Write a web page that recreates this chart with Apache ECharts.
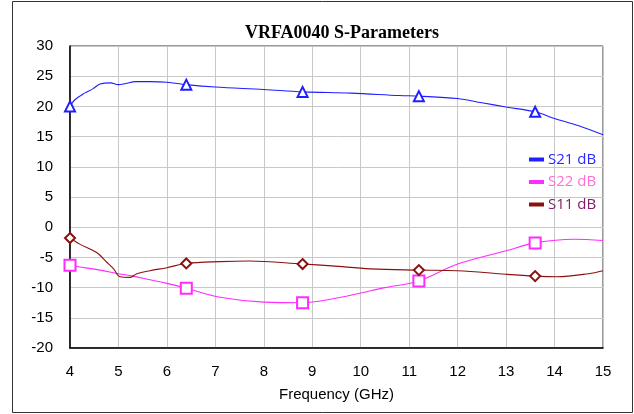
<!DOCTYPE html>
<html>
<head>
<meta charset="utf-8">
<script src="https://cdn.jsdelivr.net/npm/echarts@6/dist/echarts.min.js"></script>
<style>
  html, body { margin: 0; padding: 0; background: #fff; }
  #chart { width: 634px; height: 414px; }
</style>
</head>
<body>
<div id="chart"></div>
<script>
// Frequency axis (GHz) and gain axis (dB) ticks
const freqTicks = [4, 5, 6, 7, 8, 9, 10, 11, 12, 13, 14, 15];
const dbTicks = [-20, -15, -10, -5, 0, 5, 10, 15, 20, 25, 30];

// Frequencies where the series markers are drawn
const markerFreq = [4, 6.4, 8.8, 11.2, 13.6];

// S21 (gain)
const s21Freq = [4, 4.1, 4.3, 4.47, 4.62, 4.83, 5.0, 5.15, 5.35, 5.65, 6.0, 6.4, 7.0, 8.0, 8.8, 9.8, 10.8, 11.2, 12.0, 12.5, 13.0, 13.6, 14.0, 14.5, 15.0];
const s21Db = [20.0, 21.1, 22.2, 22.9, 23.7, 23.9, 23.6, 23.8, 24.1, 24.1, 24.0, 23.6, 23.2, 22.8, 22.4, 22.2, 21.8, 21.7, 21.3, 20.6, 19.9, 19.1, 18.0, 16.8, 15.3];

// S22 (output return loss)
const s22Freq = [4, 4.3, 4.62, 5.0, 5.3, 5.65, 6.0, 6.4, 7.1, 8.0, 8.8, 9.4, 10.0, 10.5, 11.2, 12.0, 13.0, 13.6, 14.4, 15.0];
const s22Db = [-6.3, -6.7, -7.1, -7.7, -8.1, -8.7, -9.3, -10.1, -11.6, -12.4, -12.5, -11.9, -10.9, -10.0, -8.9, -6.1, -3.9, -2.6, -2.0, -2.2];

// S11 (input return loss)
const s11Freq = [4, 4.2, 4.55, 4.76, 4.9, 5.03, 5.24, 5.38, 5.65, 6.0, 6.4, 7.1, 7.7, 8.8, 9.4, 10.2, 11.2, 12.0, 13.0, 13.6, 14.05, 14.7, 15.0];
const s11Db = [-1.8, -2.8, -4.2, -5.8, -6.9, -8.2, -8.3, -7.7, -7.2, -6.7, -6.0, -5.7, -5.6, -6.1, -6.4, -6.9, -7.1, -7.2, -7.8, -8.1, -8.2, -7.7, -7.2];

const pairs = (xs, ys) => xs.map((x, i) => [x, ys[i]]);
const isMarker = (v) => markerFreq.some(f => Math.abs(f - v[0]) < 1e-6);

function makeSeries(name, xs, ys, color, symbol, size) {
  return {
    name: name,
    type: 'line',
    data: pairs(xs, ys),
    smooth: 0.35,
    showAllSymbol: true,
    symbol: (v) => isMarker(v) ? symbol : 'none',
    symbolSize: size,
    lineStyle: { color: color, width: 1.1 },
    itemStyle: { color: color, borderColor: color, borderWidth: 1 },
    emphasis: { disabled: true },
    z: 3
  };
}

const chart = echarts.init(document.getElementById('chart'), null, { renderer: 'canvas' });

chart.setOption({
  animation: false,
  backgroundColor: '#fff',
  title: {
    text: 'VRFA0040 S-Parameters',
    left: 337,
    top: 19,
    textAlign: 'center',
    textStyle: { fontFamily: 'Liberation Serif', fontWeight: 'bold', fontSize: 18, color: '#000' }
  },
  graphic: [{
    type: 'rect',
    shape: { x: 12.5, y: 1.5, width: 620, height: 411 },
    style: { fill: 'none', stroke: '#333', lineWidth: 1 },
    silent: true
  }],
  legend: {
    orient: 'vertical',
    left: 524,
    top: 147,
    itemWidth: 13,
    itemHeight: 2,
    itemGap: 7.5,
    icon: 'rect',
    textStyle: { fontFamily: 'Open Sans', fontSize: 15 },
    data: [
      { name: 'S21 dB', itemStyle: { color: '#2a2aff' }, textStyle: { color: '#2a2aff' } },
      { name: 'S22 dB', itemStyle: { color: '#ff70d0' }, textStyle: { color: '#ff70d0' } },
      { name: 'S11 dB', itemStyle: { color: '#7d2068' }, textStyle: { color: '#7d2068' } }
    ]
  },
  grid: {
    left: 70, right: 31, top: 46, bottom: 66,
    show: true, borderColor: '#333', borderWidth: 1, backgroundColor: 'transparent'
  },
  xAxis: {
    type: 'value',
    min: freqTicks[0],
    max: freqTicks[freqTicks.length - 1],
    interval: 1,
    name: 'Frequency (GHz)',
    nameLocation: 'middle',
    nameGap: 39,
    nameTextStyle: { fontFamily: 'Liberation Sans', fontSize: 15, color: '#000' },
    axisLine: { show: true, onZero: false, lineStyle: { color: '#000', width: 1.5 } },
    axisTick: { show: false },
    axisLabel: { fontFamily: 'Liberation Sans', fontSize: 15, color: '#000', margin: 16 },
    splitLine: { show: true, lineStyle: { color: '#c8c8c8', width: 1 } }
  },
  yAxis: {
    type: 'value',
    min: dbTicks[0],
    max: dbTicks[dbTicks.length - 1],
    interval: 5,
    axisLine: { show: true, onZero: false, lineStyle: { color: '#000', width: 1.5 } },
    axisTick: { show: false },
    axisLabel: { fontFamily: 'Liberation Sans', fontSize: 15, color: '#000', margin: 17 },
    splitLine: { show: true, lineStyle: { color: '#c8c8c8', width: 1 } }
  },
  series: [
    makeSeries('S21 dB', s21Freq, s21Db, '#1f1fff', 'emptyTriangle', 10),
    makeSeries('S22 dB', s22Freq, s22Db, '#ff2bff', 'emptyRect', 11),
    makeSeries('S11 dB', s11Freq, s11Db, '#8b1010', 'emptyDiamond', 10)
  ]
});
</script>
</body>
</html>
